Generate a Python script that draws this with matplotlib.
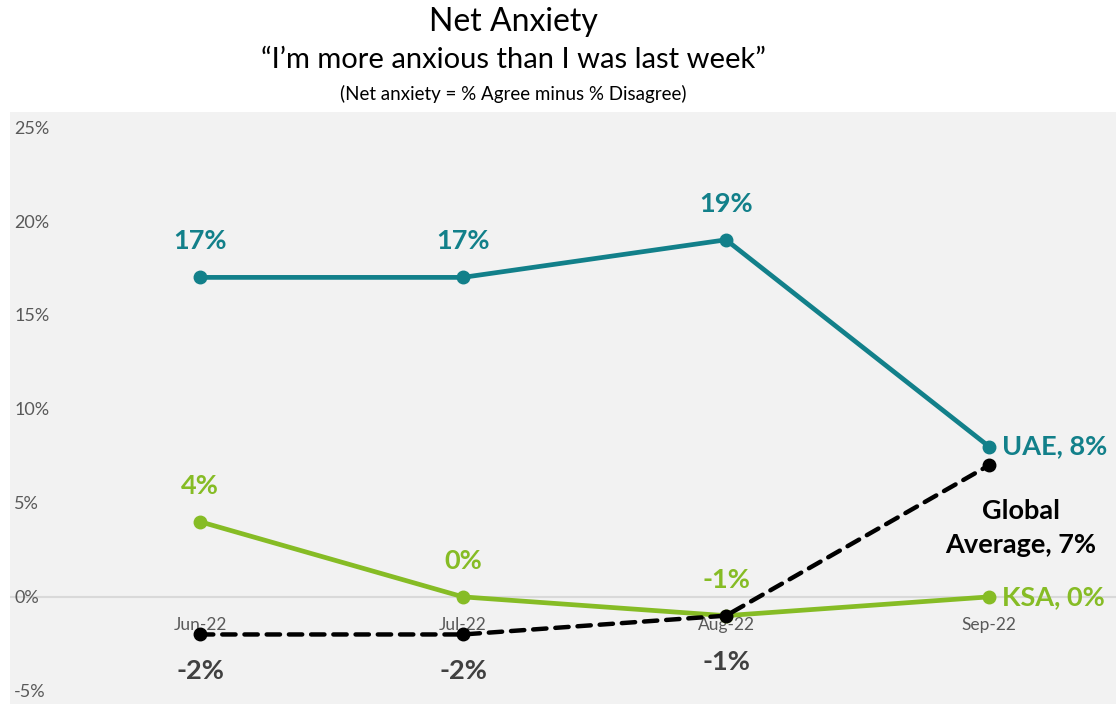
import matplotlib
matplotlib.use("Agg")
import matplotlib.pyplot as plt

plt.rcParams['font.family'] = ['Lato', 'DejaVu Sans']

months = ["Jun-22", "Jul-22", "Aug-22", "Sep-22"]
uae = [17, 17, 19, 8]
ksa = [4, 0, -1, 0]
global_avg = [-2, -2, -1, 7]
yticks = [-5, 0, 5, 10, 15, 20, 25]

TEAL = "#12808A"
GREEN = "#86BC25"
BLACK = "#000000"
GREY_TXT = "#595959"
BG = "#F2F2F2"

W, H, DPI = 1116, 704, 100
fig = plt.figure(figsize=(W / DPI, H / DPI), dpi=DPI)
fig.patch.set_facecolor("white")

# plot region: x from 10 px to right edge, y from bottom to 112 px below top
ax = fig.add_axes([10 / W, 0, 1 - 10 / W, (H - 112) / H])
ax.set_facecolor(BG)
for s in ax.spines.values():
    s.set_visible(False)

x = list(range(len(months)))
ax.set_xlim(-190 / 263, 916 / 263)
ax.set_ylim(-5.7, 25.8)

ax.axhline(0, color="#D9D9D9", lw=1.5, zorder=1)

ax.plot(x, uae, color=TEAL, lw=3.4, marker="o", ms=9, zorder=3)
ax.plot(x, ksa, color=GREEN, lw=3.4, marker="o", ms=9, zorder=4)
ax.plot(x, global_avg, color=BLACK, lw=3.2, ls=(0, (3, 2)), marker="o", ms=9,
        zorder=5, dash_capstyle="round")

# y ticks drawn inside the plot area
ax.set_yticks(yticks)
ax.set_yticklabels([f"{v}%" for v in yticks], color=GREY_TXT, fontsize=13)
ax.tick_params(axis="y", length=0, pad=-3)
for lbl in ax.get_yticklabels():
    lbl.set_horizontalalignment("left")
ax.set_xticks([])

# month labels just beneath the zero line
for xi, m in zip(x, months):
    ax.annotate(m, (xi, 0), xytext=(0, -20), textcoords="offset points",
                ha="center", va="center", color=GREY_TXT, fontsize=12.5)

lab_kw = dict(textcoords="offset points", ha="center", va="center",
              fontweight="bold", fontsize=19.5)

for xi, v in zip(x[:-1], uae[:-1]):
    ax.annotate(f"{v}%", (xi, v), xytext=(0, 26), color=TEAL, **lab_kw)
for xi, v in zip(x[:-1], ksa[:-1]):
    ax.annotate(f"{v}%", (xi, v), xytext=(0, 26), color=GREEN, **lab_kw)
offsets = [26, 26, 33]
for xi, v, off in zip(x[:-1], global_avg[:-1], offsets):
    ax.annotate(f"{v}%", (xi, v), xytext=(0, -off), color="#404040", **lab_kw)

end_kw = dict(textcoords="offset points", va="center", fontweight="bold",
              fontsize=19.5)
ax.annotate(f"UAE, {uae[-1]}%", (x[-1], uae[-1]), xytext=(9, 0), ha="left",
            color=TEAL, **end_kw)
ax.annotate(f"KSA, {ksa[-1]}%", (x[-1], ksa[-1]), xytext=(9, 0), ha="left",
            color=GREEN, **end_kw)
ax.annotate(f"Global\nAverage, {global_avg[-1]}%", (x[-1], global_avg[-1]),
            xytext=(23, -45), ha="center", color=BLACK, linespacing=1.5,
            **end_kw)

# titles
fig.text(513 / W, 1 - 22 / H, "Net Anxiety", ha="center", va="center",
         fontsize=23, color="black")
fig.text(513 / W, 1 - 60 / H, "\u201cI\u2019m more anxious than I was last week\u201d",
         ha="center", va="center", fontsize=21, color="black")
fig.text(513 / W, 1 - 94 / H, "(Net anxiety = % Agree minus % Disagree)",
         ha="center", va="center", fontsize=13.5, color="black")

fig.savefig("out.png", dpi=DPI, facecolor="white")
